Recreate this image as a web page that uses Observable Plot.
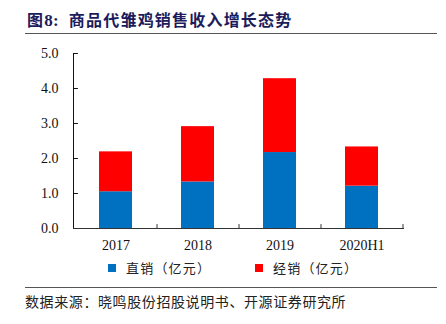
<!DOCTYPE html>
<html>
<head>
<meta charset="utf-8">
<script src="https://cdn.jsdelivr.net/npm/d3@7"></script>
<script src="https://cdn.jsdelivr.net/npm/@observablehq/plot@0.6"></script>
<style>
  html, body { margin: 0; padding: 0; background: #fff; }
  #wrap { position: relative; width: 446px; height: 324px; overflow: hidden; background: #fff; }
  #title { position: absolute; left: 27px; top: 8px; font-family: "Noto Sans CJK SC", sans-serif; font-weight: bold; font-size: 16px; color: #1c1c5c; letter-spacing: 1.2px; white-space: nowrap; line-height: 22px; }
  #title .num { font-family: "Liberation Serif", serif; font-weight: bold; font-size: 17px; letter-spacing: 0.4px; }
  .hr { position: absolute; left: 25px; width: 412px; height: 1px; background: #555; }
  #chart { position: absolute; left: 0; top: 40px; }
  .leg { position: absolute; top: 259px; font-family: "Noto Sans CJK SC", sans-serif; font-size: 13px; letter-spacing: 1.2px; color: #222; white-space: nowrap; line-height: 18px; }
  .sw { position: absolute; width: 8px; height: 8px; top: 264px; }
  #foot { position: absolute; left: 25px; top: 291px; font-family: "Noto Sans CJK SC", sans-serif; font-size: 14px; letter-spacing: 0.6px; color: #222; white-space: nowrap; line-height: 20px; }
</style>
</head>
<body>
<div id="wrap">
  <div id="title">图<span class="num">8:</span>&nbsp; 商品代雏鸡销售收入增长态势</div>
  <div class="hr" style="top:33px"></div>
  <div id="chart"></div>
  <div class="sw" style="left:108px;background:#0070C0"></div>
  <div class="leg" style="left:126px">直销（亿元）</div>
  <div class="sw" style="left:255px;background:#FF0000"></div>
  <div class="leg" style="left:273px">经销（亿元）</div>
  <div class="hr" style="top:287px"></div>
  <div id="foot">数据来源：晓鸣股份招股说明书、开源证券研究所</div>
</div>
<script>
const categories = ["2017", "2018", "2019", "2020H1"];
const directSales = [1.05, 1.33, 2.17, 1.21];      // 直销（亿元）
const distributorSales = [1.14, 1.58, 2.11, 1.12]; // 经销（亿元）
const seriesNames = ["直销（亿元）", "经销（亿元）"];
const seriesColors = ["#0070C0", "#FF0000"];
const yTicks = [0, 1, 2, 3, 4, 5];

const data = [];
categories.forEach((c, i) => {
  data.push({cat: c, series: seriesNames[0], value: directSales[i]});
  data.push({cat: c, series: seriesNames[1], value: distributorSales[i]});
});

const W = 446, H = 215;
const common = {
  width: W, height: H,
  marginLeft: 73, marginRight: 42, marginTop: 13, marginBottom: 27,
  x: {domain: categories, paddingInner: 0.6, paddingOuter: 0.3, label: null},
  y: {domain: [0, 5], label: null},
  color: {domain: seriesNames, range: seriesColors},
  style: {fontFamily: "Liberation Serif, serif", fontSize: "14px", color: "#111", background: "transparent"}
};

// first pass to read the band step from the library's x scale
const probe = Plot.plot({...common, marks: [Plot.barY(data, {x: "cat", y: "value", fill: "series"})]});
const step = probe.scale("x").step;

const lineShape = {draw(ctx, l) { ctx.moveTo(0, 0); ctx.lineTo(0, -l); }};

const chart = Plot.plot({
  ...common,
  marks: [
    Plot.barY(data, Plot.stackY({x: "cat", y: "value", fill: "series", order: seriesNames})),
    Plot.axisY({ticks: yTicks, tickFormat: d3.format(".1f"), tickSize: 0, tickPadding: 15}),
    Plot.vector(yTicks, {y: d => d, frameAnchor: "left", rotate: 90, length: 4, anchor: "start", shape: lineShape, stroke: "#111", strokeWidth: 1}),
    Plot.axisX({tickSize: 0, tickPadding: 12}),
    Plot.vector(categories, {x: d => d, y: 0, dx: step / 2, rotate: 0, length: 4, anchor: "start", shape: lineShape, stroke: "#333", strokeWidth: 1}),
    Plot.frame({anchor: "left", stroke: "#111"}),
    Plot.ruleY([0], {stroke: "#333", strokeWidth: 1.2})
  ]
});
document.getElementById("chart").appendChild(chart);
</script>
</body>
</html>
